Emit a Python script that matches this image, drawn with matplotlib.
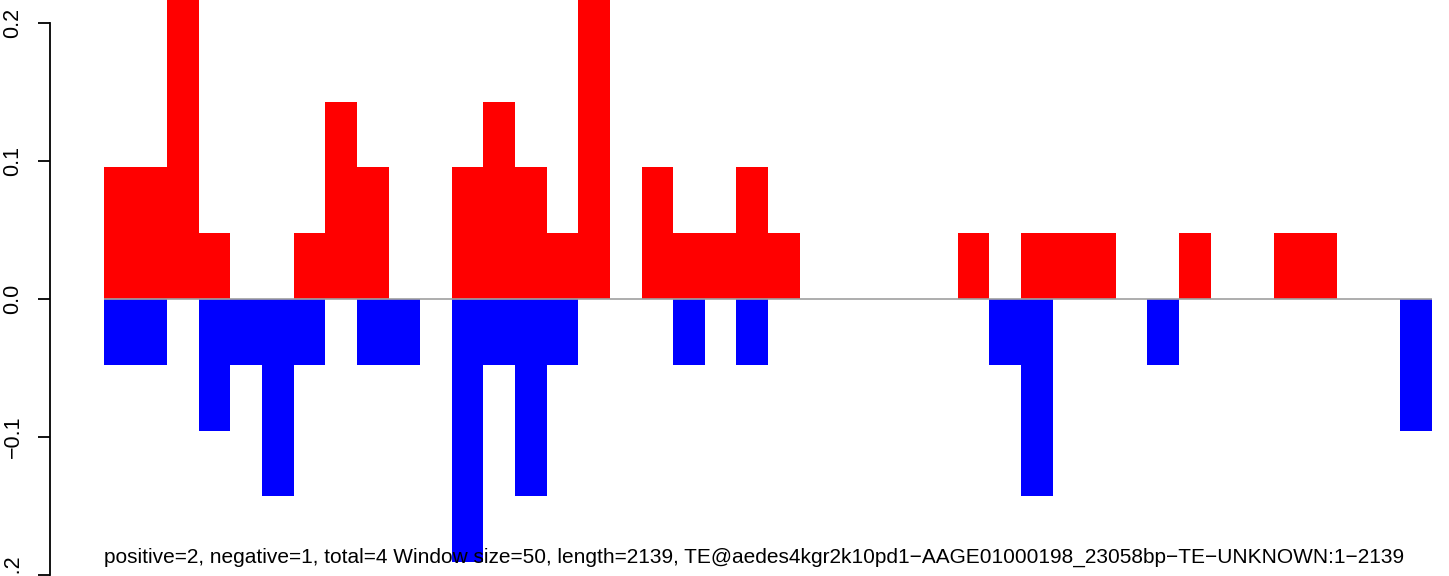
import matplotlib
matplotlib.use("Agg")
import matplotlib.pyplot as plt
import numpy as np

# Data (fraction per window)
positive = [0.0952, 0.0952, 0.2381, 0.0476, 0, 0, 0.0476, 0.1429, 0.0952, 0,
            0, 0.0952, 0.1429, 0.0952, 0.0476, 0.2381, 0, 0.0952, 0.0476, 0.0476,
            0.0952, 0.0476, 0, 0, 0, 0, 0, 0.0476, 0, 0.0476,
            0.0476, 0.0476, 0, 0, 0.0476, 0, 0, 0.0476, 0.0476, 0,
            0, 0]
negative = [-0.0476, -0.0476, 0, -0.0952, -0.0476, -0.1429, -0.0476, 0, -0.0476, -0.0476,
            0, -0.1905, -0.0476, -0.1429, -0.0476, 0, 0, 0, -0.0476, 0,
            -0.0476, 0, 0, 0, 0, 0, 0, 0, -0.0476, -0.1429,
            0, 0, 0, -0.0476, 0, 0, 0, 0, 0, 0,
            0, -0.0952]
yticks = [-0.2, -0.1, 0.0, 0.1, 0.2]
ytick_labels = ["\u22120.2", "\u22120.1", "0.0", "0.1", "0.2"]
caption = ("positive=2, negative=1, total=4 Window size=50, length=2139, "
           "TE@aedes4kgr2k10pd1\u2212AAGE01000198_23058bp\u2212TE\u2212UNKNOWN:1\u22122139")

plt.rcParams['font.family'] = ['Liberation Sans', 'DejaVu Sans']

W, H = 1449, 576
fig = plt.figure(figsize=(W / 100, H / 100), dpi=100)
left_px = 50
ax = fig.add_axes([left_px / W, 0, 1 - left_px / W, 1])

n = len(positive)
x = np.arange(n)
px_per_bin = (1432 - 104) / n
ax.set_xlim(-(104 - left_px) / px_per_bin, (W - 104) / px_per_bin)
# y scale: 0.2 at y=22.7px, 0.0 at y=299px
ppu = (299 - 22.7) / 0.2
ax.set_ylim(-(H - 299) / ppu, 299 / ppu)

ax.bar(x, positive, width=1.0, align='edge', color='#FF0000', linewidth=0, antialiased=False)
ax.bar(x, negative, width=1.0, align='edge', color='#0000FF', linewidth=0, antialiased=False)
ax.hlines(0, 0, n, color='#A0A0A0', linewidth=1.2, zorder=3)

for s in ['top', 'right', 'bottom']:
    ax.spines[s].set_visible(False)
ax.spines['left'].set_bounds(-0.2, 0.2)
ax.spines['left'].set_linewidth(1.3)
ax.set_xticks([])
ax.set_yticks(yticks)
ax.set_yticklabels(ytick_labels, rotation=90, va='center', fontsize=15.5)
ax.tick_params(axis='y', length=9, width=1.3, pad=10)
ax.patch.set_visible(False)

ax.text(0, -(563 - 299) / ppu, caption, ha='left', va='baseline', fontsize=15.0)

fig.savefig("out.png", dpi=100)
